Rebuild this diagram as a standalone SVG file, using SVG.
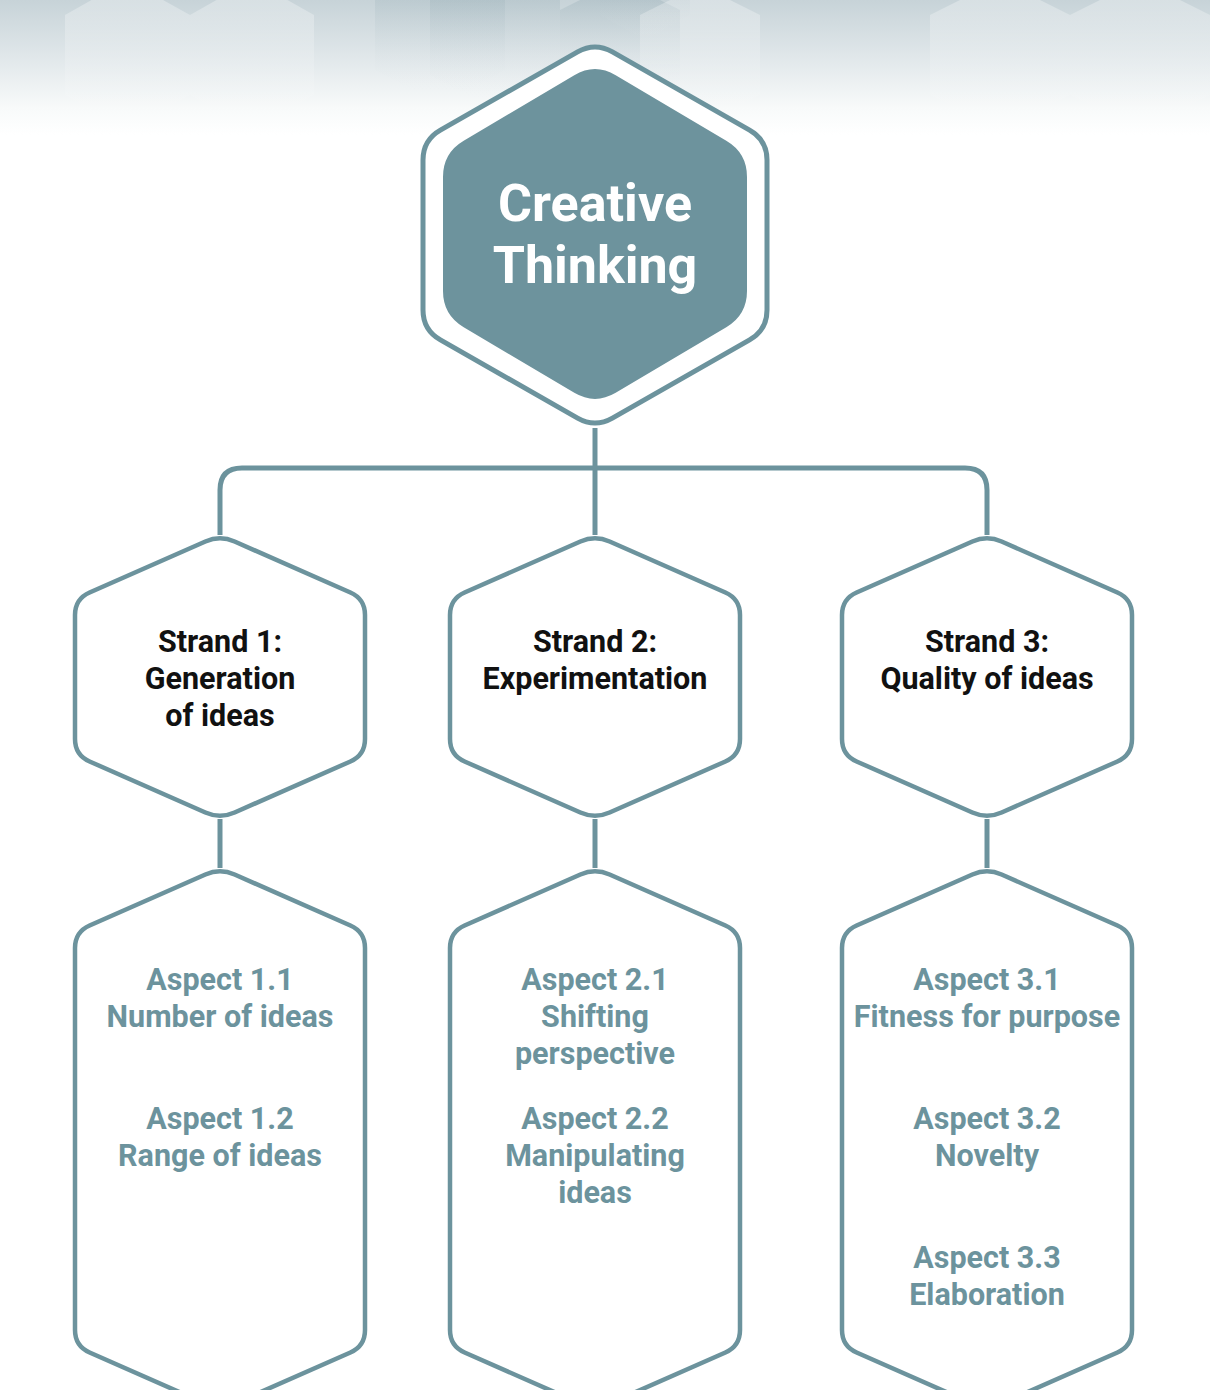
<svg xmlns="http://www.w3.org/2000/svg" width="1210" height="1390" viewBox="0 0 1210 1390">
  <defs>
    <linearGradient id="bgGrad" x1="0" y1="0" x2="0" y2="1">
      <stop offset="0" stop-color="#c7d3d8"/>
      <stop offset="0.4" stop-color="#dfe6e9"/>
      <stop offset="0.8" stop-color="#f8fafa"/>
      <stop offset="1" stop-color="#ffffff"/>
    </linearGradient>
    <linearGradient id="hexFade" x1="0" y1="0" x2="0" y2="1">
      <stop offset="0" stop-color="#7f9aa4" stop-opacity="0.35"/>
      <stop offset="0.5" stop-color="#a9bcc3" stop-opacity="0.12"/>
      <stop offset="1" stop-color="#ffffff" stop-opacity="0"/>
    </linearGradient>
    <linearGradient id="hexFadeLight" x1="0" y1="0" x2="0" y2="1">
      <stop offset="0" stop-color="#ffffff" stop-opacity="0.35"/>
      <stop offset="1" stop-color="#ffffff" stop-opacity="0"/>
    </linearGradient>
    <path id="strandHex" d="M -14.6,-135.5 Q 0,-142 14.6,-135.5 L 130.4,-84.5 Q 145,-78 145,-62 L 145,62 Q 145,78 130.4,84.5 L 14.6,135.5 Q 0,142 -14.6,135.5 L -130.4,84.5 Q -145,78 -145,62 L -145,-62 Q -145,-78 -130.4,-84.5 Z"/>
    <path id="aspectHex" d="M -14.6,874.5 Q 0,868 14.6,874.5 L 130.4,925.5 Q 145,932 145,948 L 145,1330 Q 145,1346 130.4,1352.5 L 14.6,1403.5 Q 0,1410 -14.6,1403.5 L -130.4,1352.5 Q -145,1346 -145,1330 L -145,948 Q -145,932 -130.4,925.5 Z"/>
  </defs>
  <style>
    .hex { fill: #ffffff; stroke: #6c939d; stroke-width: 4.5; }
    .conn { fill: none; stroke: #6c939d; stroke-width: 5; }
    .title { font-family: Roboto, "Liberation Sans", sans-serif; font-weight: 700; font-size: 52px; fill: #ffffff; text-anchor: middle; }
    .strand { font-family: Roboto, "Liberation Sans", sans-serif; font-weight: 700; font-size: 30.5px; fill: #111111; text-anchor: middle; }
    .aspect { font-family: Roboto, "Liberation Sans", sans-serif; font-weight: 700; font-size: 30.5px; fill: #6c939d; text-anchor: middle; }
    .bghex { fill: url(#hexFade); stroke: none; }
    .bghexl { fill: url(#hexFadeLight); stroke: none; }
  </style>

  <rect x="0" y="0" width="1210" height="1390" fill="#ffffff"/>
  <g id="background">
    <rect x="0" y="0" width="1210" height="135" fill="url(#bgGrad)"/>
    <polygon class="bghexl" points="65,15 127,-20 190,15 190,95 127,130 65,95"/>
    <polygon class="bghexl" points="190,15 252,-20 314,15 314,95 252,130 190,95"/>
    <polygon class="bghex" points="375,-5 440,-40 505,-5 505,70 440,105 375,70"/>
    <polygon class="bghex" points="430,0 495,-35 560,0 560,75 495,110 430,75"/>
    <polygon class="bghex" points="560,10 620,-20 680,10 680,80 620,110 560,80"/>
    <polygon class="bghexl" points="640,15 700,-15 760,15 760,95 700,125 640,95"/>
    <polygon class="bghex" points="600,-20 645,-45 690,-20 690,15 645,40 600,15"/>
    <polygon class="bghexl" points="930,15 1000,-20 1070,15 1070,95 1000,130 930,95"/>
    <polygon class="bghexl" points="1070,15 1140,-20 1210,15 1210,95 1140,130 1070,95"/>
  </g>

  <g id="connectors">
    <path class="conn" d="M 595,428 L 595,535"/>
    <path class="conn" d="M 220,535 L 220,490 Q 220,468 242,468 L 965,468 Q 987,468 987,490 L 987,535"/>
    <path class="conn" d="M 220,819 L 220,868"/>
    <path class="conn" d="M 595,819 L 595,868"/>
    <path class="conn" d="M 987,819 L 987,868"/>
  </g>

  <g id="creative-thinking">
    <path d="M 577.6,51.9 Q 595,42 612.4,51.9 L 749.6,130.1 Q 767,140 767,160 L 767,310 Q 767,330 749.6,339.9 L 612.4,418.1 Q 595,428 577.6,418.1 L 440.4,339.9 Q 423,330 423,310 L 423,160 Q 423,140 440.4,130.1 Z" fill="#ffffff" stroke="#6c939d" stroke-width="5"/>
    <path d="M 574.3,75.2 Q 595,63 615.7,75.2 L 726.3,140.8 Q 747,153 747,177 L 747,291 Q 747,315 726.3,327.2 L 615.7,392.8 Q 595,405 574.3,392.8 L 463.7,327.2 Q 443,315 443,291 L 443,177 Q 443,153 463.7,140.8 Z" fill="#6d939d"/>
    <text class="title" x="595" y="221">Creative</text>
    <text class="title" x="595" y="283">Thinking</text>
  </g>

  <g id="strand-1">
    <use href="#strandHex" class="hex" transform="translate(220,677)"/>
    <text class="strand" x="220" y="652">Strand 1:</text>
    <text class="strand" x="220" y="689">Generation</text>
    <text class="strand" x="220" y="726">of ideas</text>
  </g>
  <g id="strand-2">
    <use href="#strandHex" class="hex" transform="translate(595,677)"/>
    <text class="strand" x="595" y="652">Strand 2:</text>
    <text class="strand" x="595" y="689">Experimentation</text>
  </g>
  <g id="strand-3">
    <use href="#strandHex" class="hex" transform="translate(987,677)"/>
    <text class="strand" x="987" y="652">Strand 3:</text>
    <text class="strand" x="987" y="689">Quality of ideas</text>
  </g>

  <g id="aspects-1">
    <use href="#aspectHex" class="hex" transform="translate(220,0)"/>
    <text class="aspect" x="220" y="990">Aspect 1.1</text>
    <text class="aspect" x="220" y="1027">Number of ideas</text>
    <text class="aspect" x="220" y="1129">Aspect 1.2</text>
    <text class="aspect" x="220" y="1166">Range of ideas</text>
  </g>
  <g id="aspects-2">
    <use href="#aspectHex" class="hex" transform="translate(595,0)"/>
    <text class="aspect" x="595" y="990">Aspect 2.1</text>
    <text class="aspect" x="595" y="1027">Shifting</text>
    <text class="aspect" x="595" y="1064">perspective</text>
    <text class="aspect" x="595" y="1129">Aspect 2.2</text>
    <text class="aspect" x="595" y="1166">Manipulating</text>
    <text class="aspect" x="595" y="1203">ideas</text>
  </g>
  <g id="aspects-3">
    <use href="#aspectHex" class="hex" transform="translate(987,0)"/>
    <text class="aspect" x="987" y="990">Aspect 3.1</text>
    <text class="aspect" x="987" y="1027">Fitness for purpose</text>
    <text class="aspect" x="987" y="1129">Aspect 3.2</text>
    <text class="aspect" x="987" y="1166">Novelty</text>
    <text class="aspect" x="987" y="1268">Aspect 3.3</text>
    <text class="aspect" x="987" y="1305">Elaboration</text>
  </g>
</svg>
